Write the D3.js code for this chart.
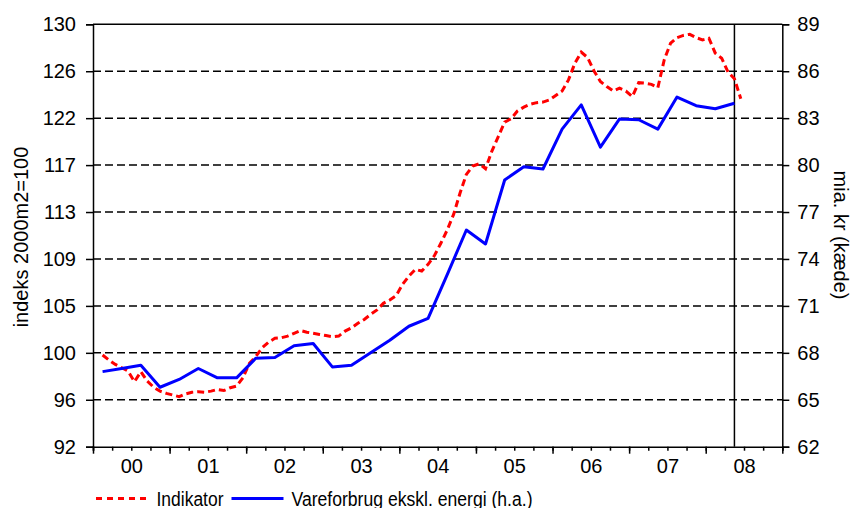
<!DOCTYPE html>
<html><head><meta charset="utf-8">
<script src="https://cdn.jsdelivr.net/npm/d3@7/dist/d3.min.js"></script>
<style>
body{margin:0;background:#fff}
svg{display:block}
text{font-family:Arial,"Liberation Sans",sans-serif;fill:#000}
</style>
</head><body>
<svg id="chart" width="852" height="508"></svg>
<script>
// ---- data ----
const yearLabels = ["00","01","02","03","04","05","06","07","08"];
const leftDomain = [92, 130];
const rightDomain = [62, 89];
const rightTickValues = [62,65,68,71,74,77,80,83,86,89];
// Indikator (left axis), monthly from Feb 2000 to Jun 2008
const indikatorStartMonth = 1;
const indikator = [100.25, 99.8, 99.4, 99.1, 98.8, 97.85, 98.75, 97.9, 97.35, 97.0,
 96.8, 96.65, 96.5, 96.75, 96.9, 96.95, 96.9, 97.0, 97.15, 97.05,
 97.3, 97.45, 98.2, 99.5, 100.1, 100.9, 101.4, 101.75, 101.8, 101.95,
 102.2, 102.45, 102.3, 102.2, 102.1, 102.0, 101.9, 101.95, 102.4, 102.7,
 103.1, 103.45, 103.9, 104.3, 104.9, 105.2, 105.6, 106.6, 107.35, 107.95,
 107.8, 108.4, 109.2, 110.3, 111.5, 112.9, 114.8, 116.5, 117.25, 117.45,
 117.0, 118.6, 119.9, 121.2, 121.5, 122.2, 122.55, 122.8, 122.95, 123.0,
 123.2, 123.6, 124.0, 125.0, 126.5, 127.5, 127.0, 125.8, 124.85, 124.4,
 124.0, 124.25, 124.0, 123.5, 124.75, 124.7, 124.6, 124.3, 126.8, 128.3,
 128.8, 129.0, 129.1, 128.8, 128.6, 128.75, 127.4, 126.95, 125.7, 125.1,
 123.3];
// Vareforbrug ekskl. energi (right axis), quarterly 2000Q1 - 2008Q2
const vareforbrug = [66.8, 67.0, 67.2, 65.8, 66.3, 67.0, 66.4, 66.4,
 67.65, 67.7, 68.45, 68.6, 67.1, 67.2, 68.0, 68.8,
 69.7, 70.2, 73.0, 75.85, 74.96, 79.05, 79.9, 79.75,
 82.3, 83.85, 81.15, 82.95, 82.9, 82.3, 84.35, 83.8,
 83.6, 83.95];
const seriesNames = ["Indikator", "Vareforbrug ekskl. energi (h.a.)"];
const leftTitle = "indeks 2000m2=100";
const rightTitle = "mia. kr (kæde)";

// ---- layout ----
const W = 852, H = 508;
const m = {left: 93, top: 24.3, right: 69.7, bottom: 61.3};
const x0 = m.left, x1 = W - m.right, y0 = m.top, y1 = H - m.bottom;
const svg = d3.select("#chart");

const x = d3.scaleLinear().domain([0, 108]).range([x0, x1]);
const yL = d3.scaleLinear().domain(leftDomain).range([y1, y0]);
const yR = d3.scaleLinear().domain(rightDomain).range([y1, y0]);
const leftTicks = d3.range(10).map(i => leftDomain[0] + i * (leftDomain[1] - leftDomain[0]) / 9);

// gridlines
svg.append("g").selectAll("line").data(leftTicks.slice(1, 9)).join("line")
  .attr("x1", x0).attr("x2", x1)
  .attr("y1", d => yL(d)).attr("y2", d => yL(d))
  .attr("stroke", "#000").attr("stroke-width", 1.5).attr("stroke-dasharray", "8,4");

// frame top
svg.append("line").attr("x1", x0).attr("x2", x1).attr("y1", y0).attr("y2", y0)
  .attr("stroke", "#000").attr("stroke-width", 1.5);

// left axis
const gL = svg.append("g").attr("transform", `translate(${x0},0)`)
  .call(d3.axisLeft(yL).tickValues(leftTicks).tickFormat(d3.format(".0f")).tickSize(7).tickPadding(10));
// right axis
const gR = svg.append("g").attr("transform", `translate(${x1},0)`)
  .call(d3.axisRight(yR).tickValues(rightTickValues).tickSize(7).tickPadding(8));
[gL, gR].forEach(g => {
  g.select(".domain").attr("stroke", "#000").attr("stroke-width", 1.5);
  g.selectAll(".tick line").attr("stroke", "#000").attr("stroke-width", 1.5);
  g.selectAll("text").attr("font-size", 20).attr("font-family", "Arial, 'Liberation Sans', sans-serif").attr("fill", "#000");
});

// bottom axis: minor quarter ticks, major year ticks, labels at year centres
const gB = svg.append("g").attr("transform", `translate(0,${y1})`)
  .call(d3.axisBottom(x).tickValues(d3.range(0, 109, 3)).tickSize(4).tickFormat(""));
gB.select(".domain").attr("stroke", "#000").attr("stroke-width", 1.5);
gB.selectAll(".tick line").attr("stroke", "#000").attr("stroke-width", 1.5);
const gB2 = svg.append("g").attr("transform", `translate(0,${y1})`)
  .call(d3.axisBottom(x).tickValues(d3.range(0, 109, 12)).tickSize(7).tickFormat(""));
gB2.select(".domain").remove();
gB2.selectAll(".tick line").attr("stroke", "#000").attr("stroke-width", 1.5);
const gB3 = svg.append("g").attr("transform", `translate(0,${y1})`)
  .call(d3.axisBottom(x).tickValues(yearLabels.map((d, i) => i * 12 + 6)).tickSize(0).tickPadding(12)
    .tickFormat((d, i) => yearLabels[i]));
gB3.select(".domain").remove();
gB3.selectAll("text").attr("font-size", 20).attr("fill", "#000");

// vertical marker at latest quarter
svg.append("line")
  .attr("x1", x(indikatorStartMonth + 99.5)).attr("x2", x(indikatorStartMonth + 99.5))
  .attr("y1", y0).attr("y2", y1).attr("stroke", "#000").attr("stroke-width", 1.5);

// lines
const redLine = d3.line().x((d, i) => x(indikatorStartMonth + i + 0.5)).y(d => yL(d));
const blueLine = d3.line().x((d, i) => x(i * 3 + 1.5)).y(d => yR(d));
svg.append("path").datum(indikator).attr("d", redLine)
  .attr("fill", "none").attr("stroke", "#ff0000").attr("stroke-width", 3)
  .attr("stroke-dasharray", "7,4");
svg.append("path").datum(vareforbrug).attr("d", blueLine)
  .attr("fill", "none").attr("stroke", "#0000ff").attr("stroke-width", 3)
  .attr("stroke-linejoin", "round");

// axis titles
svg.append("text").attr("transform", `translate(28,237) rotate(-90)`)
  .attr("text-anchor", "middle").attr("font-size", 20).text(leftTitle);
svg.append("text").attr("transform", `translate(834,235) rotate(90)`)
  .attr("text-anchor", "middle").attr("font-size", 20).text(rightTitle);

// legend
const ly = 498.5;
svg.append("line").attr("x1", 96).attr("x2", 149).attr("y1", ly).attr("y2", ly)
  .attr("stroke", "#ff0000").attr("stroke-width", 3).attr("stroke-dasharray", "6,5");
svg.append("text").attr("x", 156.5).attr("y", 505.5).attr("font-size", 20)
  .attr("textLength", 67).attr("lengthAdjust", "spacingAndGlyphs").text(seriesNames[0]);
svg.append("line").attr("x1", 231.5).attr("x2", 283.5).attr("y1", ly).attr("y2", ly)
  .attr("stroke", "#0000ff").attr("stroke-width", 3);
svg.append("text").attr("x", 291.5).attr("y", 505.5).attr("font-size", 20)
  .attr("textLength", 241).attr("lengthAdjust", "spacingAndGlyphs").text(seriesNames[1]);
</script>
</body></html>
